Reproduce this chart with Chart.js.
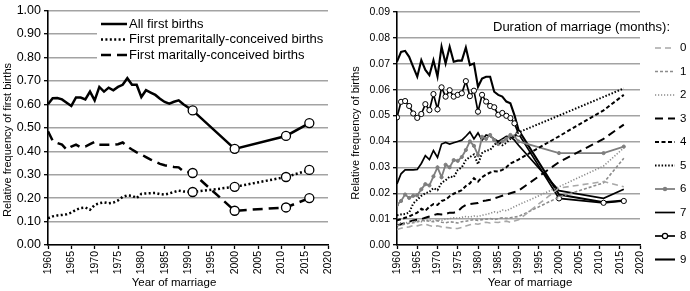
<!DOCTYPE html>
<html>
<head>
<meta charset="utf-8">
<script src="https://cdn.jsdelivr.net/npm/chart.js@4"></script>
<style>
  body { margin: 0; background: #fff; }
  .panel { position: absolute; top: 0; width: 345px; height: 291px; }
</style>
</head>
<body>
<div class="panel" style="left:0"><canvas id="left" width="345" height="291"></canvas></div>
<div class="panel" style="left:345px"><canvas id="right" width="345" height="291"></canvas></div>
<script>
// ---- left panel: first births by year of marriage ----
const leftYears = [1960, 1961, 1962, 1963, 1964, 1965, 1966, 1967, 1968, 1969,
  1970, 1971, 1972, 1973, 1974, 1975, 1976, 1977, 1978, 1979,
  1980, 1981, 1982, 1983, 1984, 1985, 1986, 1987, 1988, 1989,
  1991, 2000, 2011, 2016];
const leftLabels = ['All first births', 'First premaritally-conceived births', 'First maritally-conceived births'];
const allFirst = [0.600, 0.626, 0.627, 0.621, 0.607, 0.593, 0.629, 0.629, 0.621, 0.654,
  0.617, 0.674, 0.654, 0.671, 0.660, 0.674, 0.683, 0.711, 0.683, 0.683,
  0.631, 0.660, 0.650, 0.640, 0.624, 0.610, 0.603, 0.611, 0.617, 0.600,
  0.574, 0.410, 0.465, 0.520];
const premarital = [0.114, 0.122, 0.126, 0.128, 0.131, 0.138, 0.150, 0.158, 0.160, 0.150,
  0.171, 0.178, 0.182, 0.178, 0.181, 0.190, 0.205, 0.212, 0.210, 0.200,
  0.218, 0.220, 0.221, 0.222, 0.217, 0.215, 0.220, 0.226, 0.232, 0.228,
  0.226, 0.248, 0.290, 0.320];
const marital = [0.485, 0.445, 0.435, 0.428, 0.407, 0.420, 0.428, 0.417, 0.420, 0.430,
  0.440, 0.428, 0.428, 0.428, 0.428, 0.430, 0.437, 0.420, 0.407, 0.395,
  0.386, 0.375, 0.364, 0.355, 0.346, 0.340, 0.336, 0.333, 0.331, 0.314,
  0.307, 0.146, 0.160, 0.200];

// ---- right panel: births by duration of marriage (months) ----
const rightYears = [1960, 1961, 1962, 1963, 1964, 1965, 1966, 1967, 1968, 1969,
  1970, 1971, 1972, 1973, 1974, 1975, 1976, 1977, 1978, 1979,
  1980, 1981, 1982, 1983, 1984, 1985, 1986, 1987, 1988, 1989,
  1990, 2000, 2011, 2016];
const durationLabels = ['0', '1', '2', '3', '4', '5', '6', '7', '8', '9'];
const dur0 = [0.0060, 0.0065, 0.0068, 0.0070, 0.0075, 0.0074, 0.0078, 0.0080, 0.0075, 0.0071,
  0.0074, 0.0070, 0.0068, 0.0066, 0.0063, 0.0064, 0.0068, 0.0073, 0.0078, 0.0083,
  0.0080, 0.0084, 0.0088, 0.0085, 0.0088, 0.0087, 0.0090, 0.0092, 0.0088, 0.0093,
  0.0097, 0.0220, 0.0245, 0.0225];
const dur1 = [0.0075, 0.0078, 0.0080, 0.0084, 0.0086, 0.0090, 0.0094, 0.0095, 0.0092, 0.0090,
  0.0094, 0.0088, 0.0086, 0.0090, 0.0088, 0.0085, 0.0090, 0.0092, 0.0095, 0.0098,
  0.0095, 0.0098, 0.0100, 0.0102, 0.0098, 0.0102, 0.0105, 0.0103, 0.0105, 0.0108,
  0.0110, 0.0185, 0.0240, 0.0335];
const dur2 = [0.0085, 0.0086, 0.0085, 0.0088, 0.0090, 0.0092, 0.0090, 0.0094, 0.0096, 0.0093,
  0.0097, 0.0095, 0.0100, 0.0102, 0.0105, 0.0103, 0.0107, 0.0110, 0.0108, 0.0112,
  0.0110, 0.0115, 0.0118, 0.0122, 0.0128, 0.0125, 0.0135, 0.0132, 0.0140, 0.0148,
  0.0155, 0.0225, 0.0305, 0.0375];
const dur3 = [0.0075, 0.0080, 0.0085, 0.0090, 0.0095, 0.0098, 0.0100, 0.0105, 0.0110, 0.0115,
  0.0120, 0.0118, 0.0120, 0.0125, 0.0125, 0.0130, 0.0145, 0.0155, 0.0158, 0.0160,
  0.0162, 0.0170, 0.0172, 0.0175, 0.0180, 0.0185, 0.0190, 0.0195, 0.0200, 0.0205,
  0.0210, 0.0320, 0.0410, 0.0465];
const dur4 = [0.0095, 0.0100, 0.0105, 0.0110, 0.0118, 0.0125, 0.0140, 0.0132, 0.0148, 0.0158,
  0.0155, 0.0170, 0.0175, 0.0188, 0.0198, 0.0205, 0.0212, 0.0228, 0.0238, 0.0258,
  0.0245, 0.0262, 0.0272, 0.0280, 0.0285, 0.0284, 0.0290, 0.0300, 0.0315, 0.0322,
  0.0330, 0.0420, 0.0520, 0.0580];
const dur5 = [0.0115, 0.0118, 0.0120, 0.0125, 0.0160, 0.0175, 0.0190, 0.0200, 0.0205, 0.0220,
  0.0212, 0.0240, 0.0250, 0.0264, 0.0262, 0.0290, 0.0300, 0.0328, 0.0340, 0.0350,
  0.0312, 0.0355, 0.0365, 0.0367, 0.0386, 0.0400, 0.0385, 0.0395, 0.0410, 0.0420,
  0.0435, 0.0500, 0.0572, 0.0605];
const dur6 = [0.0155, 0.0170, 0.0195, 0.0182, 0.0190, 0.0192, 0.0215, 0.0235, 0.0230, 0.0265,
  0.0300, 0.0262, 0.0310, 0.0300, 0.0328, 0.0325, 0.0340, 0.0367, 0.0400, 0.0383,
  0.0347, 0.0418, 0.0410, 0.0425, 0.0405, 0.0390, 0.0400, 0.0410, 0.0425, 0.0420,
  0.0400, 0.0355, 0.0355, 0.0380];
const dur7 = [0.0236, 0.0275, 0.0290, 0.0290, 0.0290, 0.0292, 0.0315, 0.0345, 0.0330, 0.0365,
  0.0338, 0.0390, 0.0396, 0.0390, 0.0395, 0.0400, 0.0405, 0.0420, 0.0437, 0.0410,
  0.0433, 0.0405, 0.0425, 0.0420, 0.0410, 0.0400, 0.0410, 0.0420, 0.0418, 0.0405,
  0.0385, 0.0210, 0.0180, 0.0215];
const dur8 = [0.0493, 0.0553, 0.0556, 0.0537, 0.0508, 0.0491, 0.0506, 0.0544, 0.0521, 0.0583,
  0.0524, 0.0609, 0.0573, 0.0598, 0.0573, 0.0580, 0.0586, 0.0633, 0.0575, 0.0596,
  0.0515, 0.0580, 0.0554, 0.0537, 0.0532, 0.0503, 0.0510, 0.0499, 0.0490, 0.0470,
  0.0430, 0.0180, 0.0163, 0.0170];
const dur9 = [0.0708, 0.0746, 0.0750, 0.0727, 0.0688, 0.0650, 0.0714, 0.0676, 0.0656, 0.0714,
  0.0650, 0.0766, 0.0701, 0.0766, 0.0708, 0.0712, 0.0712, 0.0763, 0.0695, 0.0701,
  0.0611, 0.0643, 0.0650, 0.0650, 0.0592, 0.0580, 0.0573, 0.0554, 0.0547, 0.0502,
  0.0445, 0.0195, 0.0165, 0.0172];
const durSeries = [dur0, dur1, dur2, dur3, dur4, dur5, dur6, dur7, dur8, dur9];

Chart.defaults.font.family = "'Liberation Sans', Arial, sans-serif";
Chart.defaults.color = '#000';
Chart.defaults.animation = false;

function pts(xs, ys) {
  return xs.map((x, i) => ({ x: x, y: ys[i] }));
}

function scales(o) {
  return {
    x: {
      type: 'linear', min: 1960, max: 2020,
      afterFit: s => { s.height = 46; },
      ticks: { stepSize: 5, autoSkip: false, minRotation: 90, maxRotation: 90, padding: 2,
        font: { size: 10.5 }, callback: v => String(v) },
      grid: { drawOnChartArea: false, tickLength: 4, tickColor: '#000', tickWidth: 1.3 },
      border: { color: '#000', width: 1.6 }
    },
    y: {
      min: 0, max: o.max,
      afterFit: s => { s.width = o.axisW; },
      ticks: { stepSize: o.step, padding: 3, font: { size: o.tickSize }, callback: v => v.toFixed(2) },
      grid: { color: '#a3a3a3', lineWidth: 1.4, tickLength: 4, tickColor: '#000', tickWidth: 1.3 },
      border: { color: '#000', width: 1.6 }
    }
  };
}

// axis titles and the legends are drawn by hand so they sit where the original has them
function decor(cfg) {
  return {
    id: 'decor',
    afterDraw(chart) {
      const ctx = chart.ctx;
      ctx.save();
      ctx.fillStyle = '#000';
      cfg.texts.forEach(t => {
        ctx.save();
        ctx.font = t.size + "px 'Liberation Sans', Arial, sans-serif";
        ctx.textAlign = t.align || 'center';
        ctx.textBaseline = 'middle';
        ctx.translate(t.x, t.y);
        if (t.rot) ctx.rotate(t.rot);
        ctx.fillText(t.text, 0, 0);
        ctx.restore();
      });
      const lg = cfg.legend;
      if (lg.bg) {
        ctx.fillStyle = '#fff';
        ctx.fillRect(lg.bg[0], lg.bg[1], lg.bg[2], lg.bg[3]);
      }
      ctx.font = lg.size + "px 'Liberation Sans', Arial, sans-serif";
      ctx.textBaseline = 'middle';
      ctx.textAlign = 'left';
      chart.data.datasets.forEach((ds, i) => {
        const y = lg.y0 + i * lg.step;
        ctx.beginPath();
        ctx.setLineDash(ds.borderDash || []);
        ctx.lineWidth = ds.borderWidth;
        ctx.strokeStyle = ds.borderColor;
        ctx.moveTo(lg.x0, y);
        ctx.lineTo(lg.x1, y);
        ctx.stroke();
        ctx.setLineDash([]);
        if (ds.legendMarker) {
          ctx.beginPath();
          ctx.arc((lg.x0 + lg.x1) / 2, y, ds.legendMarker, 0, Math.PI * 2);
          ctx.fillStyle = ds.pointBackgroundColor;
          ctx.fill();
          ctx.lineWidth = 1.2;
          ctx.strokeStyle = ds.borderColor;
          ctx.stroke();
        }
        ctx.fillStyle = '#000';
        ctx.fillText(ds.label, lg.textX, y);
      });
      ctx.restore();
    }
  };
}

// left chart
const leftStyles = [
  { dash: [] },
  { dash: [2, 2.4] },
  { dash: [10, 6] }
];
const leftSeries = [allFirst, premarital, marital];
new Chart(document.getElementById('left'), {
  type: 'line',
  data: {
    datasets: leftSeries.map((s, i) => ({
      label: leftLabels[i],
      data: pts(leftYears, s),
      borderColor: '#000',
      borderWidth: 2.5,
      borderDash: leftStyles[i].dash,
      pointRadius: c => (leftYears[c.dataIndex] > 1990 ? 4.5 : 0),
      pointBackgroundColor: '#fff',
      pointBorderColor: '#000',
      pointBorderWidth: 1.3,
      tension: 0
    }))
  },
  options: {
    responsive: false,
    layout: { padding: { left: 0, right: 17, top: 10, bottom: 0 } },
    plugins: { legend: { display: false }, tooltip: { enabled: false } },
    scales: scales({ max: 1, step: 0.1, axisW: 48, tickSize: 12.5 })
  },
  plugins: [decor({
    texts: [
      { text: 'Relative frequency of first births', x: 8, y: 140, rot: -Math.PI / 2, size: 11 },
      { text: 'Year of marriage', x: 174, y: 283, size: 11.5 }
    ],
    legend: { x0: 101, x1: 127, textX: 129, y0: 24, step: 15.5, size: 13, bg: [97, 14, 231, 49] }
  })]
});

// right chart
const rightStyles = [
  { color: '#a8a8a8', width: 1.6, dash: [6, 4] },
  { color: '#8c8c8c', width: 1.6, dash: [3, 2] },
  { color: '#8c8c8c', width: 1.6, dash: [1.2, 1.8] },
  { color: '#000', width: 2, dash: [8, 5] },
  { color: '#000', width: 2, dash: [4, 2.5] },
  { color: '#000', width: 2, dash: [1.5, 1.8] },
  { color: '#7f7f7f', width: 1.8, dash: [], marker: 1.6, fill: '#7f7f7f' },
  { color: '#000', width: 1.7, dash: [] },
  { color: '#000', width: 1.7, dash: [], marker: 2.6, fill: '#fff' },
  { color: '#000', width: 2.1, dash: [] }
];
new Chart(document.getElementById('right'), {
  type: 'line',
  data: {
    datasets: durSeries.map((s, i) => {
      const st = rightStyles[i];
      return {
        label: durationLabels[i],
        data: pts(rightYears, s),
        borderColor: st.color,
        borderWidth: st.width,
        borderDash: st.dash,
        pointRadius: st.marker || 0,
        pointBackgroundColor: st.fill || '#fff',
        pointBorderColor: st.color,
        pointBorderWidth: 1,
        legendMarker: st.marker || 0,
        tension: 0
      };
    })
  },
  options: {
    responsive: false,
    layout: { padding: { left: 0, right: 50, top: 12, bottom: 0 } },
    plugins: { legend: { display: false }, tooltip: { enabled: false } },
    scales: scales({ max: 0.09, step: 0.01, axisW: 52, tickSize: 10.5 })
  },
  plugins: [decor({
    texts: [
      { text: 'Relative frequency of births', x: 11, y: 133, rot: -Math.PI / 2, size: 11 },
      { text: 'Year of marriage', x: 185, y: 283, size: 11.5 },
      { text: 'Duration of marriage (months):', x: 325, y: 27, size: 13, align: 'right' }
    ],
    legend: { x0: 310, x1: 330, textX: 335, y0: 48, step: 23.5, size: 11.5 }
  })]
});
</script>
</body>
</html>
